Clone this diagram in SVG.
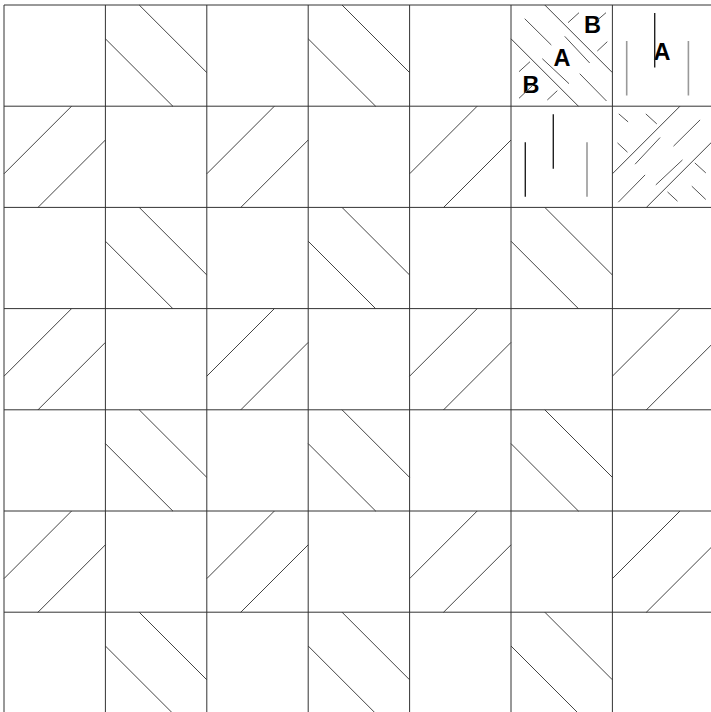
<svg xmlns="http://www.w3.org/2000/svg" xmlns:xlink="http://www.w3.org/1999/xlink" width="711" height="712" viewBox="0 0 711 712">
<style>
  .grid line { stroke: #333; stroke-width: 1; fill: none; }
  .hatch line { stroke: #444; stroke-width: 1; fill: none; }
  .thin line { stroke: #555; stroke-width: 1; fill: none; }
  .vk { stroke: #222; stroke-width: 1.4; }
  .vg { stroke: #999; stroke-width: 1.6; }
  .lbl { font-family: "Liberation Sans", Arial, sans-serif; font-weight: bold; font-size: 23.5px; fill: #000; }
</style>
<defs>
  <g id="bs" class="hatch">
    <line x1="33.8" y1="0" x2="101.4" y2="67.6"/>
    <line x1="0" y1="33.8" x2="67.6" y2="101.4"/>
  </g>
  <g id="fs" class="hatch">
    <line x1="67.6" y1="0" x2="0" y2="67.6"/>
    <line x1="101.4" y1="33.8" x2="33.8" y2="101.4"/>
  </g>
  <g id="dashes" class="thin">
    <line x1="13.7" y1="13.7" x2="40.3" y2="40"/>
    <line x1="53.7" y1="31.3" x2="78.7" y2="58"/>
    <line x1="31.3" y1="53.7" x2="58" y2="78.7"/>
    <line x1="68.7" y1="68.7" x2="95.5" y2="96"/>
    <line x1="57" y1="17.7" x2="68" y2="7.7"/>
    <line x1="85.7" y1="15.7" x2="95" y2="7.7"/>
    <line x1="86.3" y1="46" x2="96.3" y2="36.7"/>
    <line x1="8" y1="66.7" x2="19" y2="56.7"/>
    <line x1="8" y1="93.3" x2="22" y2="80"/>
    <line x1="36.3" y1="95" x2="46.3" y2="85.7"/>
  </g>
</defs>
<rect width="711" height="712" fill="#fff"/>

<g id="cells">
  <use id="c0-1" xlink:href="#bs" href="#bs" transform="translate(105.4,5)"/>
  <use id="c0-3" xlink:href="#bs" href="#bs" transform="translate(308.2,5)"/>
  <use id="c1-0" xlink:href="#fs" href="#fs" transform="translate(4,106.2)"/>
  <use id="c1-2" xlink:href="#fs" href="#fs" transform="translate(206.8,106.2)"/>
  <use id="c1-4" xlink:href="#fs" href="#fs" transform="translate(409.6,106.2)"/>
  <use id="c2-1" xlink:href="#bs" href="#bs" transform="translate(105.4,207.4)"/>
  <use id="c2-3" xlink:href="#bs" href="#bs" transform="translate(308.2,207.4)"/>
  <use id="c2-5" xlink:href="#bs" href="#bs" transform="translate(511,207.4)"/>
  <use id="c3-0" xlink:href="#fs" href="#fs" transform="translate(4,308.6)"/>
  <use id="c3-2" xlink:href="#fs" href="#fs" transform="translate(206.8,308.6)"/>
  <use id="c3-4" xlink:href="#fs" href="#fs" transform="translate(409.6,308.6)"/>
  <use id="c3-6" xlink:href="#fs" href="#fs" transform="translate(612.4,308.6)"/>
  <use id="c4-1" xlink:href="#bs" href="#bs" transform="translate(105.4,409.8)"/>
  <use id="c4-3" xlink:href="#bs" href="#bs" transform="translate(308.2,409.8)"/>
  <use id="c4-5" xlink:href="#bs" href="#bs" transform="translate(511,409.8)"/>
  <use id="c5-0" xlink:href="#fs" href="#fs" transform="translate(4,511)"/>
  <use id="c5-2" xlink:href="#fs" href="#fs" transform="translate(206.8,511)"/>
  <use id="c5-4" xlink:href="#fs" href="#fs" transform="translate(409.6,511)"/>
  <use id="c5-6" xlink:href="#fs" href="#fs" transform="translate(612.4,511)"/>
  <use id="c6-1" xlink:href="#bs" href="#bs" transform="translate(105.4,612.2)"/>
  <use id="c6-3" xlink:href="#bs" href="#bs" transform="translate(308.2,612.2)"/>
  <use id="c6-5" xlink:href="#bs" href="#bs" transform="translate(511,612.2)"/>
</g>

<g id="c0-5">
  <text class="lbl" x="584" y="33">B</text>
  <text class="lbl" x="553.5" y="65.5">A</text>
  <text class="lbl" x="522.5" y="93">B</text>
  <use xlink:href="#bs" href="#bs" transform="translate(511,5)"/>
  <use xlink:href="#dashes" href="#dashes" transform="translate(511,5)"/>
</g>

<g id="c0-6">
  <text class="lbl" x="653.5" y="59.5">A</text>
  <g transform="translate(612.4,5)">
    <line class="vk" x1="42.3" y1="8" x2="42.3" y2="62.5"/>
    <line class="vg" x1="14.3" y1="36" x2="14.3" y2="90.5"/>
    <line class="vg" x1="76" y1="36" x2="76" y2="90.5"/>
  </g>
</g>

<g id="c1-5">
  <g transform="translate(511,106.2)">
    <line class="vk" x1="42.3" y1="8" x2="42.3" y2="62.5"/>
    <line class="vk" x1="14.3" y1="36" x2="14.3" y2="90.5"/>
    <line class="vg" x1="76" y1="36" x2="76" y2="90.5"/>
  </g>
</g>

<g id="c1-6">
  <use xlink:href="#fs" href="#fs" transform="translate(612.4,106.2)"/>
  <use xlink:href="#dashes" href="#dashes" transform="translate(713.8,106.2) scale(-1,1)"/>
</g>

<g id="grid" class="grid">
  <line x1="4" y1="5" x2="4" y2="712"/>
  <line x1="105.4" y1="5" x2="105.4" y2="712"/>
  <line x1="206.8" y1="5" x2="206.8" y2="712"/>
  <line x1="308.2" y1="5" x2="308.2" y2="712"/>
  <line x1="409.6" y1="5" x2="409.6" y2="712"/>
  <line x1="511" y1="5" x2="511" y2="712"/>
  <line x1="612.4" y1="5" x2="612.4" y2="712"/>
  <line x1="4" y1="5" x2="711" y2="5"/>
  <line x1="4" y1="106.2" x2="711" y2="106.2"/>
  <line x1="4" y1="207.4" x2="711" y2="207.4"/>
  <line x1="4" y1="308.6" x2="711" y2="308.6"/>
  <line x1="4" y1="409.8" x2="711" y2="409.8"/>
  <line x1="4" y1="511" x2="711" y2="511"/>
  <line x1="4" y1="612.2" x2="711" y2="612.2"/>
</g>
</svg>
